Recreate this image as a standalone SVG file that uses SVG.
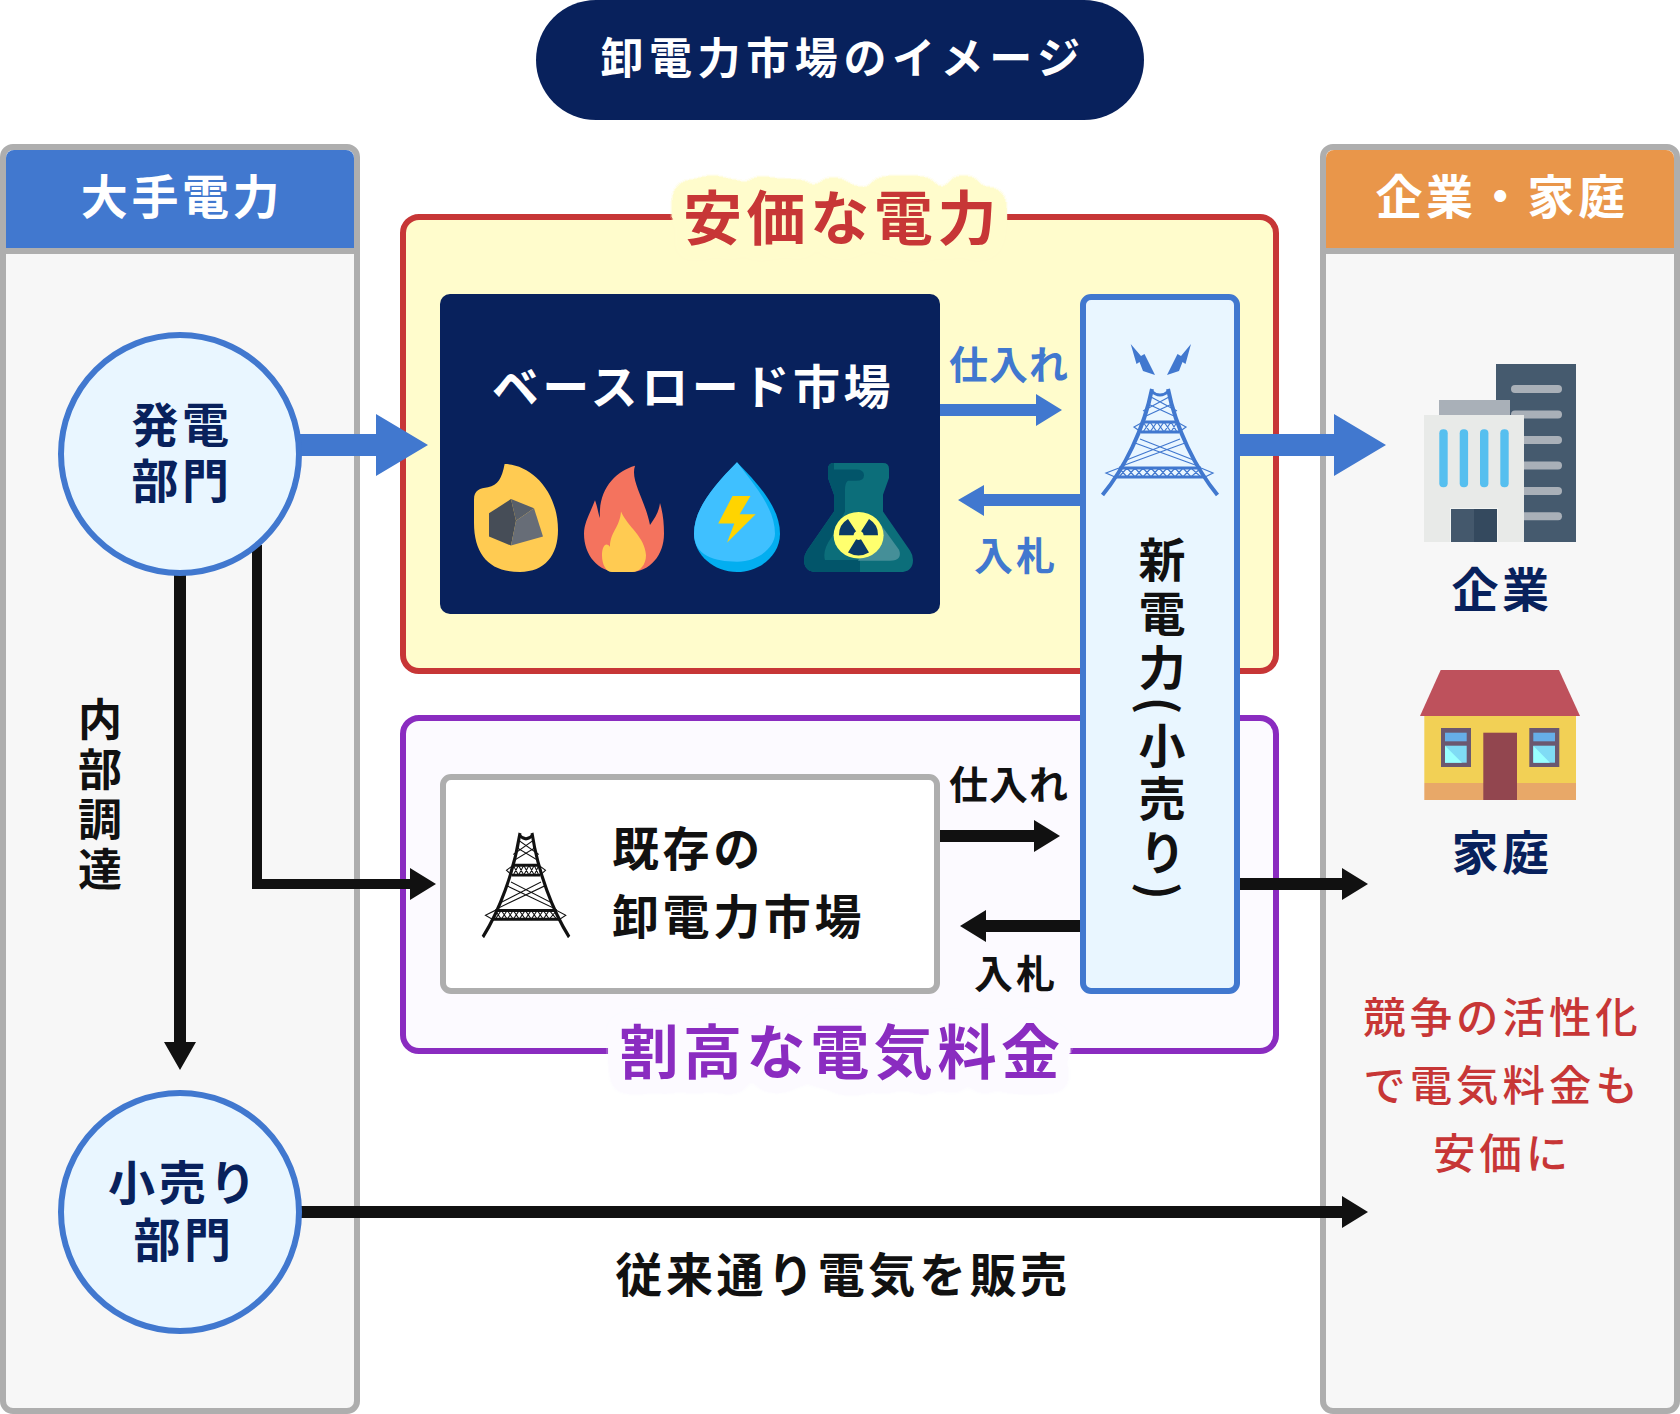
<svg xmlns="http://www.w3.org/2000/svg" width="1680" height="1414" viewBox="0 0 1680 1414">
<style>
text{font-family:"Noto Sans CJK JP","Noto Sans",sans-serif;font-weight:700;text-anchor:middle}
.w{fill:#fff}.n{fill:#08215C}.k{fill:#111}.b{fill:#4178CF}
.s46{font-size:47px;letter-spacing:3.6px}
.s38{font-size:39px;letter-spacing:1px}
.s38b{font-size:39px;letter-spacing:3px}
.red{fill:#C73636;font-size:42.4px;letter-spacing:4px;font-weight:500}
.h{font-size:59px;letter-spacing:4.6px}
.panel{fill:#F7F7F7;stroke:#AEAEAE;stroke-width:6}
.tl{fill:none;stroke:currentColor;stroke-width:1.2}
.tb{fill:none;stroke:currentColor;stroke-width:3}
.circ{fill:#E9F6FF;stroke:#4178CF;stroke-width:6}
</style>
<defs>
<filter id="haloY" x="-15%" y="-70%" width="130%" height="240%" color-interpolation-filters="sRGB"><feGaussianBlur in="SourceAlpha" stdDeviation="8"/><feComponentTransfer result="m"><feFuncA type="linear" slope="100" intercept="-0.6"/></feComponentTransfer><feFlood flood-color="#FFFCCC"/><feComposite in2="m" operator="in"/><feMerge><feMergeNode/><feMergeNode in="SourceGraphic"/></feMerge></filter>
<filter id="haloP" x="-15%" y="-70%" width="130%" height="240%" color-interpolation-filters="sRGB"><feGaussianBlur in="SourceAlpha" stdDeviation="8"/><feComponentTransfer result="m"><feFuncA type="linear" slope="100" intercept="-0.6"/></feComponentTransfer><feFlood flood-color="#FCFAFF"/><feComposite in2="m" operator="in"/><feMerge><feMergeNode/><feMergeNode in="SourceGraphic"/></feMerge></filter>
<g id="tower">
<path class="tb" style="stroke-width:4" d="M-57.5,106C-36,80-16,40-8,0M57.5,106C36,80 16,40 8,0"/>
<path class="tb" d="M-9,2Q0,10 9,2"/>
<path class="tb" d="M-17,33H17M-19,43H19M-41,79H41M-45,88H45"/>
<path class="tl" d="M-17,33L-26,38-19,43M17,33L26,38 19,43M-41,79L-54,84-45,88M41,79L53,84 45,88"/>
<path class="tl" d="M-17,33L-10,43-3,33 4,43 11,33 17,43M-17,43L-10,33-3,43 4,33 11,43 17,33"/>
<path class="tl" d="M-41,79L-33,88-25,79-17,88-9,79-1,88 7,79 15,88 23,79 31,88 41,79M-41,88L-33,79-25,88-17,79-9,88-1,79 7,88 15,79 23,88 31,79 41,88"/>
<path class="tl" d="M-12,15L14,27M12,15L-14,27M-9,8L17,22M9,8L-17,22M-20,50L36,72M20,50L-36,72M-25,54L38,77M25,54L-38,77"/>
</g>
</defs>
<rect width="1680" height="1414" fill="#fff"/>
<g id="title"><rect x="536" y="0" width="608" height="120" rx="60" fill="#08215C"/><text class="w" x="843" y="74" style="font-size:43px;letter-spacing:5.6px">卸電力市場のイメージ</text></g>
<g id="panel-left"><rect class="panel" x="3" y="147" width="354" height="1264" rx="10"/><path d="M6,158a8,8 0 0 1 8,-8H346a8,8 0 0 1 8,8V248H6Z" fill="#4178CF"/><rect x="6" y="248" width="348" height="6" fill="#AEAEAE"/><text class="w s46" x="182" y="214">大手電力</text></g>
<g id="panel-right"><rect class="panel" x="1323" y="147" width="354" height="1264" rx="10"/><path d="M1326,158a8,8 0 0 1 8,-8H1666a8,8 0 0 1 8,8V248H1326Z" fill="#E9964A"/><rect x="1326" y="248" width="348" height="6" fill="#AEAEAE"/><text class="w s46" x="1502" y="214">企業・家庭</text></g>
<g id="cheap-market"><rect x="403" y="217" width="873" height="454" rx="16" fill="#FFFCCC" stroke="#C73636" stroke-width="6"/><text class="h" x="842" y="240" fill="#C73636" filter="url(#haloY)">安価な電力</text></g>
<g id="costly-market"><rect x="403" y="718" width="873" height="333" rx="16" fill="#FCFAFF" stroke="#8A2CC0" stroke-width="6"/><text class="h" x="842" y="1074" fill="#8A2CC0" filter="url(#haloP)">割高な電気料金</text></g>
<g id="baseload"><rect x="440" y="294" width="500" height="320" rx="10" fill="#08215C"/><text class="w s46" x="693" y="404">ベースロード市場</text>
<g transform="translate(0,464) scale(1,.931) translate(0,-477)">
<g id="coal"><path d="M504.6,477C530,477 558,505 558,548C558,575 545,593 520,593C490,593 474,575 474,540V515C474,505 480,503 488,502C498,500 502,492 504.6,477Z" fill="#FFCB52"/><path d="M511,514.6L489,530V555L511,564.6 516,538Z" fill="#464D57"/><path d="M511,514.6L534,524.6 516,538Z" fill="#585F69"/><path d="M516,538L534,524.6 543,555 511,564.6Z" fill="#676D77"/></g>
<g id="flame"><path d="M635,479C630,495 645,515 650,542.5C655,535 659,528 660,519C663,530 664,540 664,552C664,575 650,593 630,593H618C598,593 584,575 584,552C584,540 590,530 595,516C598,525 598,530 600,535C598,505 615,485 635,479Z" fill="#F4735E"/><path d="M621,528C628,545 645,555 646,575C646,585 640,593 632,593H612C606,593 602,585 602,575C602,565 606,560 610,566C610,550 620,545 621,528Z" fill="#FFCB52"/></g>
<g id="drop"><path d="M737,475C760,500 780,525 780,552C780,575 760,593 737,593C714,593 694,575 694,552C694,525 714,500 737,475Z" fill="#03AEF0"/><path d="M737,475C755,500 775,525 775,552C775,565 760,582 737,582C714,582 694,575 694,552C694,525 714,500 737,475Z" fill="#3FC0FF"/><path d="M732.5,511.5H750.5L739.6,531H755.7L727,561.5 734.3,541H718.2Z" fill="#FFD400"/></g>
<g id="flask"><path d="M828,482Q828,476 834,476H883Q889,476 889,482V492L883,510V528L910,570Q913,575 913,580Q913,593 900,593H817Q804,593 804,580Q804,575 807,570L834,528V510L828,492Z" fill="#0C6E7A"/><path d="M828,482Q828,476 834,476V483H856Q864,483 864,489Q864,495 856,495H848Q845,497 845,505V528L832,555Q822,570 825,580H860V593H817Q804,593 804,580Q804,575 807,570L834,528V510L828,492Z" fill="#02556A"/><path d="M880,541L899,569Q903,580 890,581H858Z" fill="#458F98"/><circle cx="858.6" cy="553.6" r="25" fill="#FFFF6E"/><path d="M858.6,553.6L848,536A20,20 0 0 0 839,553.6ZM858.6,553.6L869,536A20,20 0 0 1 878,553.6ZM858.6,553.6L848,572A20,20 0 0 0 869,572Z" fill="#0B3A66"/><circle cx="858.6" cy="553.6" r="5" fill="#FFFF6E"/></g>
</g></g>
<g id="existing-market"><rect x="443" y="777" width="494" height="214" rx="8" fill="#fff" stroke="#AEAEAE" stroke-width="6"/><use href="#tower" transform="translate(526,833) scale(.75,.98)" color="#111"/><text class="k s46" style="text-anchor:start"><tspan x="612" y="866">既存の</tspan><tspan x="612" y="934">卸電力市場</tspan></text></g>
<g id="new-power"><rect x="1083" y="297" width="154" height="694" rx="8" fill="#E9F6FF" stroke="#4178CF" stroke-width="6"/><use href="#tower" transform="translate(1160,389)" color="#4178CF"/><path d="M1130.7,344L1141,356 1144.5,354 1155,375 1143,371 1139.5,362 1136.5,364ZM1191,344L1181,356 1177.5,354 1167,375 1179,371 1182.5,362 1185.5,364Z" fill="#4178CF"/><text class="k" x="1162" y="536" style="writing-mode:vertical-rl;text-anchor:start;font-size:47px;letter-spacing:6.6px">新電力(小売り)</text></g>
<g id="connectors">
<path d="M300,434H376V414L428,445 376,476V456H300Z" fill="#4178CF"/>
<path d="M1240,434H1334V414L1386,445 1334,476V456H1240Z" fill="#4178CF"/>
<path d="M940,404H1036V394L1062,410 1036,426V416H940Z" fill="#4178CF"/>
<path d="M1080,494H984V485L958,500 984,516V506H1080Z" fill="#4178CF"/>
<path d="M174,570H186V1042H196L180,1070 164,1042H174Z" fill="#111"/>
<path d="M252,545H262V879H410V868L436,884 410,900V889H252Z" fill="#111"/>
<path d="M940,830H1034V820L1060,836 1034,852V842H940Z" fill="#111"/>
<path d="M1080,920H986V910L960,926 986,942V932H1080Z" fill="#111"/>
<path d="M1240,878H1342V868L1368,884 1342,900V890H1240Z" fill="#111"/>
<path d="M300,1206H1342V1196L1368,1212 1342,1228V1218H300Z" fill="#111"/>
</g>
<g id="generation"><circle class="circ" cx="180" cy="454" r="119"/><text class="n s46"><tspan x="182" y="442">発電</tspan><tspan x="182" y="498">部門</tspan></text></g>
<g id="retail"><circle class="circ" cx="180" cy="1212" r="119"/><text class="n s46"><tspan x="184" y="1200">小売り</tspan><tspan x="184" y="1257">部門</tspan></text></g>
<g id="labels">
<text class="k" x="100" y="697" style="writing-mode:vertical-rl;text-anchor:start;font-size:44px;letter-spacing:6px">内部調達</text>
<text class="b s38" x="1009" y="379">仕入れ</text><text class="b s38b" x="1016" y="570">入札</text>
<text class="k s38" x="1009" y="799">仕入れ</text><text class="k s38b" x="1016" y="988">入札</text>
<text class="k s46" x="843" y="1292">従来通り電気を販売</text>
<text class="red" x="1502.5" y="1033">競争の活性化</text><text class="red" x="1502.5" y="1101">で電気料金も</text><text class="red" x="1502.5" y="1169">安価に</text>
</g>
<g id="company"><rect x="1496" y="364" width="80" height="178" fill="#455A6E"/><g fill="#A9B0B8"><rect x="1511" y="385" width="51" height="8" rx="4"/><rect x="1511" y="410.6" width="51" height="8" rx="4"/><rect x="1511" y="436" width="51" height="8" rx="4"/><rect x="1511" y="461.6" width="51" height="8" rx="4"/><rect x="1511" y="487" width="51" height="8" rx="4"/><rect x="1511" y="512.3" width="51" height="8" rx="4"/><rect x="1439" y="400" width="71" height="15"/></g><rect x="1424" y="415" width="100" height="127" fill="#E8EAE8"/><g fill="#56BFEF"><rect x="1439.3" y="429.3" width="8.4" height="58" rx="4"/><rect x="1459.7" y="429.3" width="8.4" height="58" rx="4"/><rect x="1480" y="429.3" width="8.4" height="58" rx="4"/><rect x="1500.3" y="429.3" width="8.4" height="58" rx="4"/></g><rect x="1450" y="508" width="48" height="34" fill="#F3F5F3"/><rect x="1451" y="509" width="23" height="33" fill="#44586C"/><rect x="1474" y="509" width="23" height="33" fill="#34495E"/><text class="n s46" x="1502" y="607">企業</text></g>
<g id="home"><path d="M1440.7,670H1559L1580,716H1420Z" fill="#BE515C"/><rect x="1424.3" y="716" width="151.7" height="67" fill="#F2D055"/><rect x="1424.3" y="783" width="151.7" height="17" fill="#E8A868"/><rect x="1483.3" y="732.7" width="33.7" height="67.3" fill="#92464F"/>
<g id="w1"><rect x="1441" y="728" width="30" height="39" fill="#6B5870"/><rect x="1445" y="732.7" width="21.7" height="8.6" fill="#66AEE8"/><rect x="1445" y="745.7" width="21.7" height="17" fill="#7FDBF5"/><path d="M1445,745.7V762.7H1462Z" fill="#99FFFF"/></g>
<g id="w2"><rect x="1529.3" y="728" width="30" height="39" fill="#6B5870"/><rect x="1533.3" y="732.7" width="21.7" height="8.6" fill="#66AEE8"/><rect x="1533.3" y="745.7" width="21.7" height="17" fill="#7FDBF5"/><path d="M1533.3,745.7V762.7H1550Z" fill="#99FFFF"/></g>
<text class="n s46" x="1502" y="870">家庭</text></g>
</svg>
